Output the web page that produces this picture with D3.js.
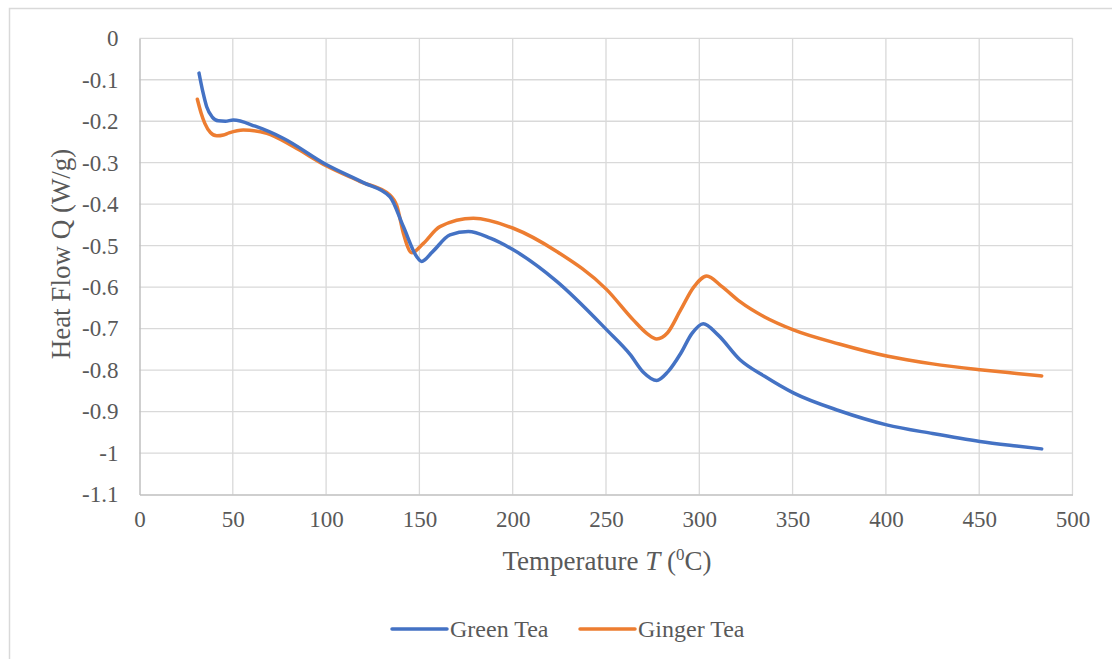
<!DOCTYPE html>
<html>
<head>
<meta charset="utf-8">
<script src="https://cdn.jsdelivr.net/npm/d3@7/dist/d3.min.js"></script>
<style>
  body { margin: 0; background: #fff; }
  svg { display: block; }
  svg text { font-family: "Liberation Serif", "Times New Roman", serif !important; fill: #595959; }
</style>
</head>
<body>
<svg id="chart" width="1112" height="659"></svg>
<script>
const seriesNames = ["Green Tea", "Ginger Tea"];
const seriesColors = ["#4472C4", "#ED7D31"];

const greenT = [31.9, 34, 36, 39, 42.2, 46, 50.3, 62, 77, 100.3, 120, 134.2, 141.4, 148.5, 151.2, 157, 166.4, 176.2, 188, 200.3, 223.6, 250.4, 262.9, 270, 277.2, 283, 290, 296, 302.1, 310, 321.8, 335, 350.4, 375, 400.4, 425, 450.4, 470, 483.5];
const greenQ = [-0.084, -0.130, -0.165, -0.190, -0.199, -0.200, -0.197, -0.212, -0.241, -0.305, -0.348, -0.382, -0.454, -0.526, -0.538, -0.515, -0.474, -0.466, -0.482, -0.510, -0.586, -0.703, -0.762, -0.805, -0.825, -0.805, -0.760, -0.712, -0.688, -0.715, -0.775, -0.815, -0.855, -0.898, -0.932, -0.953, -0.972, -0.983, -0.990];

const gingerT = [31, 33, 35, 38, 41.4, 45, 48, 55.6, 68.2, 82.4, 100.3, 118, 134.2, 138, 141.4, 145.9, 152, 161, 178.9, 200.3, 223.6, 250.4, 264.6, 272, 277.2, 283, 290, 297, 304, 312, 321.8, 335, 350.4, 375, 400.4, 425, 450.4, 470, 483.5];
const gingerQ = [-0.147, -0.180, -0.205, -0.227, -0.235, -0.233, -0.228, -0.221, -0.229, -0.261, -0.308, -0.345, -0.378, -0.405, -0.470, -0.517, -0.495, -0.454, -0.434, -0.458, -0.514, -0.606, -0.679, -0.712, -0.725, -0.710, -0.655, -0.600, -0.573, -0.598, -0.635, -0.672, -0.703, -0.737, -0.766, -0.785, -0.799, -0.808, -0.814];

const xTicks = [0, 50, 100, 150, 200, 250, 300, 350, 400, 450, 500];
const yTicks = [0, -0.1, -0.2, -0.3, -0.4, -0.5, -0.6, -0.7, -0.8, -0.9, -1, -1.1];
const yTickLabels = ["0", "-0.1", "-0.2", "-0.3", "-0.4", "-0.5", "-0.6", "-0.7", "-0.8", "-0.9", "-1", "-1.1"];

const svg = d3.select("#chart");
const FONT = '"Liberation Serif", "Times New Roman", serif';

// outer chart border
svg.append("rect").attr("x", 9.5).attr("y", 8.5).attr("width", 1200).attr("height", 700)
  .attr("fill", "none").attr("stroke", "#d9d9d9").attr("stroke-width", 1.5);

const L = 139.5, R = 1072.5, T = 38.3, B = 494.5;
const x = d3.scaleLinear().domain([0, 500]).range([L, R]);
const y = d3.scaleLinear().domain([-1.1, 0]).range([B, T]);

// gridlines
const grid = svg.append("g");
grid.selectAll("line.v").data(xTicks.slice(1)).join("line")
  .attr("x1", d => x(d)).attr("x2", d => x(d)).attr("y1", T).attr("y2", B)
  .attr("stroke", "#d9d9d9").attr("stroke-width", 1.3);
grid.selectAll("line.h").data(yTicks.slice(0, -1)).join("line")
  .attr("y1", d => y(d)).attr("y2", d => y(d)).attr("x1", L).attr("x2", R)
  .attr("stroke", "#d9d9d9").attr("stroke-width", 1.3);

// axes
const xAxis = svg.append("g").attr("transform", `translate(0,${B})`)
  .call(d3.axisBottom(x).tickValues(xTicks).tickSize(0).tickPadding(16).tickFormat(d => String(d)));
xAxis.attr("font-family", FONT);
xAxis.select(".domain").attr("stroke", "#bfbfbf").attr("stroke-width", 1.5);
xAxis.selectAll("text").style("font-family", FONT).style("font-size", "23px").attr("fill", "#595959");

const yAxis = svg.append("g").attr("transform", `translate(${L},0)`)
  .call(d3.axisLeft(y).tickValues(yTicks).tickSize(0).tickPadding(21)
    .tickFormat((d, i) => yTickLabels[i]));
yAxis.attr("font-family", FONT);
yAxis.select(".domain").attr("stroke", "#bfbfbf").attr("stroke-width", 1.5);
yAxis.selectAll("text").style("font-family", FONT).style("font-size", "23px").attr("fill", "#595959");

// lines
const line = d3.line().x(d => x(d[0])).y(d => y(d[1])).curve(d3.curveMonotoneX);
const series = [d3.zip(greenT, greenQ), d3.zip(gingerT, gingerQ)];
svg.append("path").datum(series[1]).attr("d", line).attr("fill", "none")
  .attr("stroke", seriesColors[1]).attr("stroke-width", 3.5).attr("stroke-linecap", "round").attr("stroke-linejoin", "round");
svg.append("path").datum(series[0]).attr("d", line).attr("fill", "none")
  .attr("stroke", seriesColors[0]).attr("stroke-width", 3.5).attr("stroke-linecap", "round").attr("stroke-linejoin", "round");

// axis titles
svg.append("text").attr("x", 607).attr("y", 570).attr("text-anchor", "middle")
  .style("font-size", "27px")
  .call(t => {
    t.append("tspan").text("Temperature ");
    t.append("tspan").style("font-style", "italic").text("T");
    t.append("tspan").text(" (");
    t.append("tspan").attr("dy", -10).style("font-size", "17px").text("0");
    t.append("tspan").attr("dy", 10).text("C)");
  });

svg.append("text").attr("transform", `translate(70,254) rotate(-90)`)
  .attr("text-anchor", "middle").style("font-size", "27px").text("Heat Flow Q (W/g)");

// legend
const legend = svg.append("g");
const legX = [392, 580];
seriesNames.forEach((n, i) => {
  legend.append("line").attr("x1", legX[i]).attr("x2", legX[i] + 55).attr("y1", 629).attr("y2", 629)
    .attr("stroke", seriesColors[i]).attr("stroke-width", 3.5).attr("stroke-linecap", "round");
  legend.append("text").attr("x", legX[i] + 58).attr("y", 637).style("font-size", "24px").text(n);
});
</script>
</body>
</html>
